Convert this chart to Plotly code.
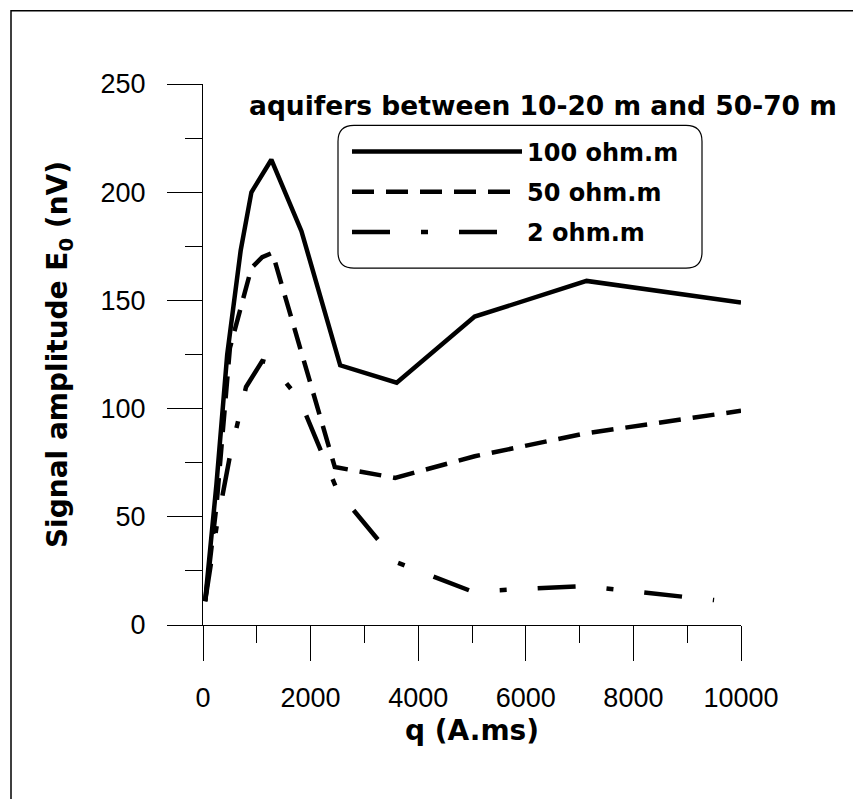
import plotly.graph_objects as go

# ---- data ----
q_100 = [40, 250, 450, 700, 900, 1270, 1830, 2550, 3600, 5050, 7130, 10000]
E_100 = [11, 65, 125, 173, 200, 215, 182, 120, 112, 142.5, 159, 149]

q_50 = [40, 250, 500, 900, 1100, 1290, 2450, 3570, 5050, 7100, 10000]
E_50 = [11, 55, 128, 165, 170, 172, 73, 68, 78, 88.5, 99]

q_2 = [40, 250, 500, 800, 1100, 1250, 1800, 2500, 3600, 5000, 7100, 9500]
E_2 = [11, 45, 78, 110, 122, 121, 104, 62, 29, 15.5, 18, 11.5]

series_names = ["100 ohm.m", "50 ohm.m", "2 ohm.m"]
title_text = "aquifers between 10-20 m and 50-70 m"
x_ticks = [0, 2000, 4000, 6000, 8000, 10000]
y_ticks = [0, 50, 100, 150, 200, 250]

# ---- geometry (pixels) ----
W, H = 853, 799
L, R = 203, 741
T, B = 83.5, 625.5
pw, ph = R - L, B - T


def px(x):
    return (x - L) / pw


def py(y):
    return (B - y) / ph


FONT = "Liberation Sans, Arial, sans-serif"
BOLD = "DejaVu Sans, Liberation Sans, Arial, sans-serif"
LW = 4.5

fig = go.Figure()
fig.add_trace(go.Scatter(x=q_100, y=E_100, mode="lines", name=series_names[0],
                         legendgroup="a",
                         line=dict(color="black", width=LW)))
fig.add_trace(go.Scatter(x=q_50, y=E_50, mode="lines", name=series_names[1],
                         legendgroup="b",
                         line=dict(color="black", width=LW, dash="22px,12px")))
fig.add_trace(go.Scatter(x=q_2, y=E_2, mode="lines", name=series_names[2],
                         legendgroup="c",
                         line=dict(color="black", width=LW, dash="38px,31px,7px,31px")))

# rounded legend box
bx0, bx1, by0, by1, r = 338, 702, 125, 268, 16
rx, ry = r / pw, r / ph
X0, X1, Y0, Y1 = px(bx0), px(bx1), py(by0), py(by1)
path = (f"M{X0+rx},{Y0} L{X1-rx},{Y0} Q{X1},{Y0} {X1},{Y0-ry} "
        f"L{X1},{Y1+ry} Q{X1},{Y1} {X1-rx},{Y1} L{X0+rx},{Y1} "
        f"Q{X0},{Y1} {X0},{Y1+ry} L{X0},{Y0-ry} Q{X0},{Y0} {X0+rx},{Y0} Z")

shapes = [
    dict(type="path", xref="paper", yref="paper", path=path,
         line=dict(color="black", width=1.2), fillcolor="rgba(0,0,0,0)"),
    # outer frame of the figure
    dict(type="rect", xref="paper", yref="paper",
         x0=px(11), x1=px(W + 10), y0=py(10), y1=py(H + 10),
         line=dict(color="black", width=1.5), fillcolor="rgba(0,0,0,0)"),
]

fig.update_layout(
    width=W, height=H,
    margin=dict(l=L, r=W - R, t=T, b=H - B, pad=0),
    paper_bgcolor="white", plot_bgcolor="white",
    font=dict(family=FONT, color="black", size=27),
    showlegend=True,
    legend=dict(x=px(347), y=py(129), xanchor="left", yanchor="top",
                bgcolor="rgba(0,0,0,0)", borderwidth=0,
                itemwidth=170, tracegroupgap=6,
                font=dict(family=BOLD, size=24, color="black", weight="bold")),
    shapes=shapes,
    annotations=[dict(text=title_text, xref="paper", yref="paper",
                      x=px(247), y=py(105), xanchor="left", yanchor="middle",
                      showarrow=False,
                      font=dict(family=BOLD, size=26.5, color="black", weight="bold"))],
)

fig.update_xaxes(range=[0, 10000], tickvals=x_ticks, ticktext=[str(v) for v in x_ticks],
                 showline=True, linecolor="black", linewidth=1.2,
                 ticks="outside", ticklen=35, tickwidth=1.2, tickcolor="black",
                 minor=dict(dtick=1000, tick0=0, ticks="outside", ticklen=17,
                            tickwidth=1.2, tickcolor="black"),
                 showgrid=False, zeroline=False,
                 ticklabelstandoff=13,
                 tickfont=dict(family=FONT, size=27, color="black"),
                 title=dict(text="q (A.ms)", standoff=8,
                            font=dict(family=BOLD, size=28, color="black", weight="bold")))
fig.update_yaxes(range=[0, 250], tickvals=y_ticks, ticktext=[str(v) for v in y_ticks],
                 showline=True, linecolor="black", linewidth=1.2,
                 ticks="outside", ticklen=35, tickwidth=1.2, tickcolor="black",
                 minor=dict(dtick=25, tick0=0, ticks="outside", ticklen=17,
                            tickwidth=1.2, tickcolor="black"),
                 showgrid=False, zeroline=False,
                 ticklabelstandoff=16,
                 tickfont=dict(family=FONT, size=27, color="black"),
                 title=dict(text="Signal amplitude E<sub>0</sub> (nV)", standoff=24,
                            font=dict(family=BOLD, size=28, color="black", weight="bold")))

fig.write_html("out.html")
